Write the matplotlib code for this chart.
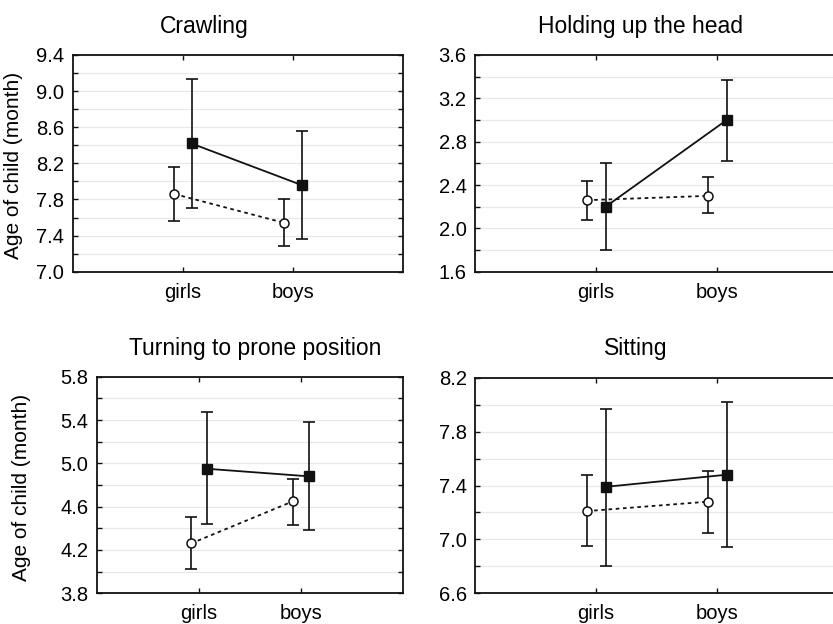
import matplotlib
matplotlib.use("Agg")
import matplotlib.pyplot as plt
from matplotlib.ticker import MultipleLocator, FormatStrFormatter
import numpy as np

plt.rcParams['font.family'] = ['Liberation Sans', 'DejaVu Sans']

categories = ['girls', 'boys']
titles = ['Crawling', 'Holding up the head', 'Turning to prone position', 'Sitting']

# solid line, filled squares
sq_mean = [[8.42, 7.96], [2.20, 3.00], [4.95, 4.88], [7.39, 7.48]]
sq_up   = [[9.13, 8.56], [2.60, 3.37], [5.47, 5.38], [7.97, 8.02]]
sq_lo   = [[7.71, 7.36], [1.80, 2.62], [4.44, 4.38], [6.80, 6.94]]
# dotted line, open circles
ci_mean = [[7.86, 7.54], [2.26, 2.30], [4.26, 4.65], [7.21, 7.28]]
ci_up   = [[8.16, 7.80], [2.44, 2.47], [4.50, 4.86], [7.48, 7.51]]
ci_lo   = [[7.56, 7.28], [2.08, 2.14], [4.02, 4.43], [6.95, 7.05]]

ylims = [(7.0, 9.4), (1.6, 3.6), (3.8, 5.8), (6.6, 8.2)]

W, H = 833, 624
fig = plt.figure(figsize=(W / 100, H / 100), dpi=100)

# axes boxes in pixels: left, top, right, bottom
boxes = [(72.7, 55, 402.7, 271.7), (475, 55, 838, 271.7),
         (96.7, 376.7, 402.7, 593.3), (475, 377.7, 838, 593.3)]
title_pos = [(204, 33), (640, 33), (255, 355), (636, 355)]
ylabel_pos = {0: (14, 165), 2: (22, 487)}

ink = '#111111'
for i in range(4):
    l, t, r, b = boxes[i]
    ax = fig.add_axes([l / W, 1 - b / H, (r - l) / W, (b - t) / H])
    x = np.arange(1, len(categories) + 1)
    off_c, off_s = -0.075, 0.08
    cm = np.array(ci_mean[i]); cu = np.array(ci_up[i]); cl = np.array(ci_lo[i])
    sm = np.array(sq_mean[i]); su = np.array(sq_up[i]); sl = np.array(sq_lo[i])
    ax.plot(x + off_c, cm, color=ink, lw=1.3, ls=(0, (2, 2)), zorder=3)
    ax.errorbar(x + off_c, cm, yerr=[cm - cl, cu - cm], fmt='none', ecolor=ink,
                elinewidth=1.2, capsize=4.5, capthick=1.2, zorder=3)
    ax.plot(x + off_c, cm, 'o', ms=6.5, mfc='white', mec=ink, mew=1.1, zorder=4)
    ax.plot(x + off_s, sm, color=ink, lw=1.3, ls='-', zorder=5)
    ax.errorbar(x + off_s, sm, yerr=[sm - sl, su - sm], fmt='none', ecolor=ink,
                elinewidth=1.2, capsize=4.5, capthick=1.2, zorder=5)
    ax.plot(x + off_s, sm, 's', ms=6.8, mfc=ink, mec=ink, zorder=6)

    lo, hi = ylims[i]
    ax.set_xlim(0, 3)
    ax.set_ylim(lo, hi)
    ax.set_xticks(x)
    ax.set_xticklabels(categories)
    ax.set_yticks(np.arange(lo, hi + 0.01, 0.4))
    ax.set_yticks(np.arange(lo, hi + 0.01, 0.2), minor=True)
    ax.yaxis.set_major_formatter(FormatStrFormatter('%.1f'))
    ax.grid(which='both', axis='y', color='#e8e8e8', lw=0.9, zorder=0)
    ax.set_axisbelow(True)
    ax.tick_params(which='both', direction='in', top=True, right=True,
                   length=3.5, width=1.0, color=ink, labelsize=14.5, pad=6,
                   labelcolor='black')
    ax.tick_params(axis='x', pad=8)
    for s in ax.spines.values():
        s.set_linewidth(1.3)
        s.set_color(ink)
    tx, ty = title_pos[i]
    fig.text(tx / W, 1 - ty / H, titles[i], ha='center', va='baseline',
             fontsize=16.5, color='black')
    if i in ylabel_pos:
        yx, yy = ylabel_pos[i]
        fig.text(yx / W, 1 - yy / H, 'Age of child (month)', rotation=90,
                 ha='center', va='center', fontsize=15, color='black')

fig.savefig('out.png', dpi=100)
